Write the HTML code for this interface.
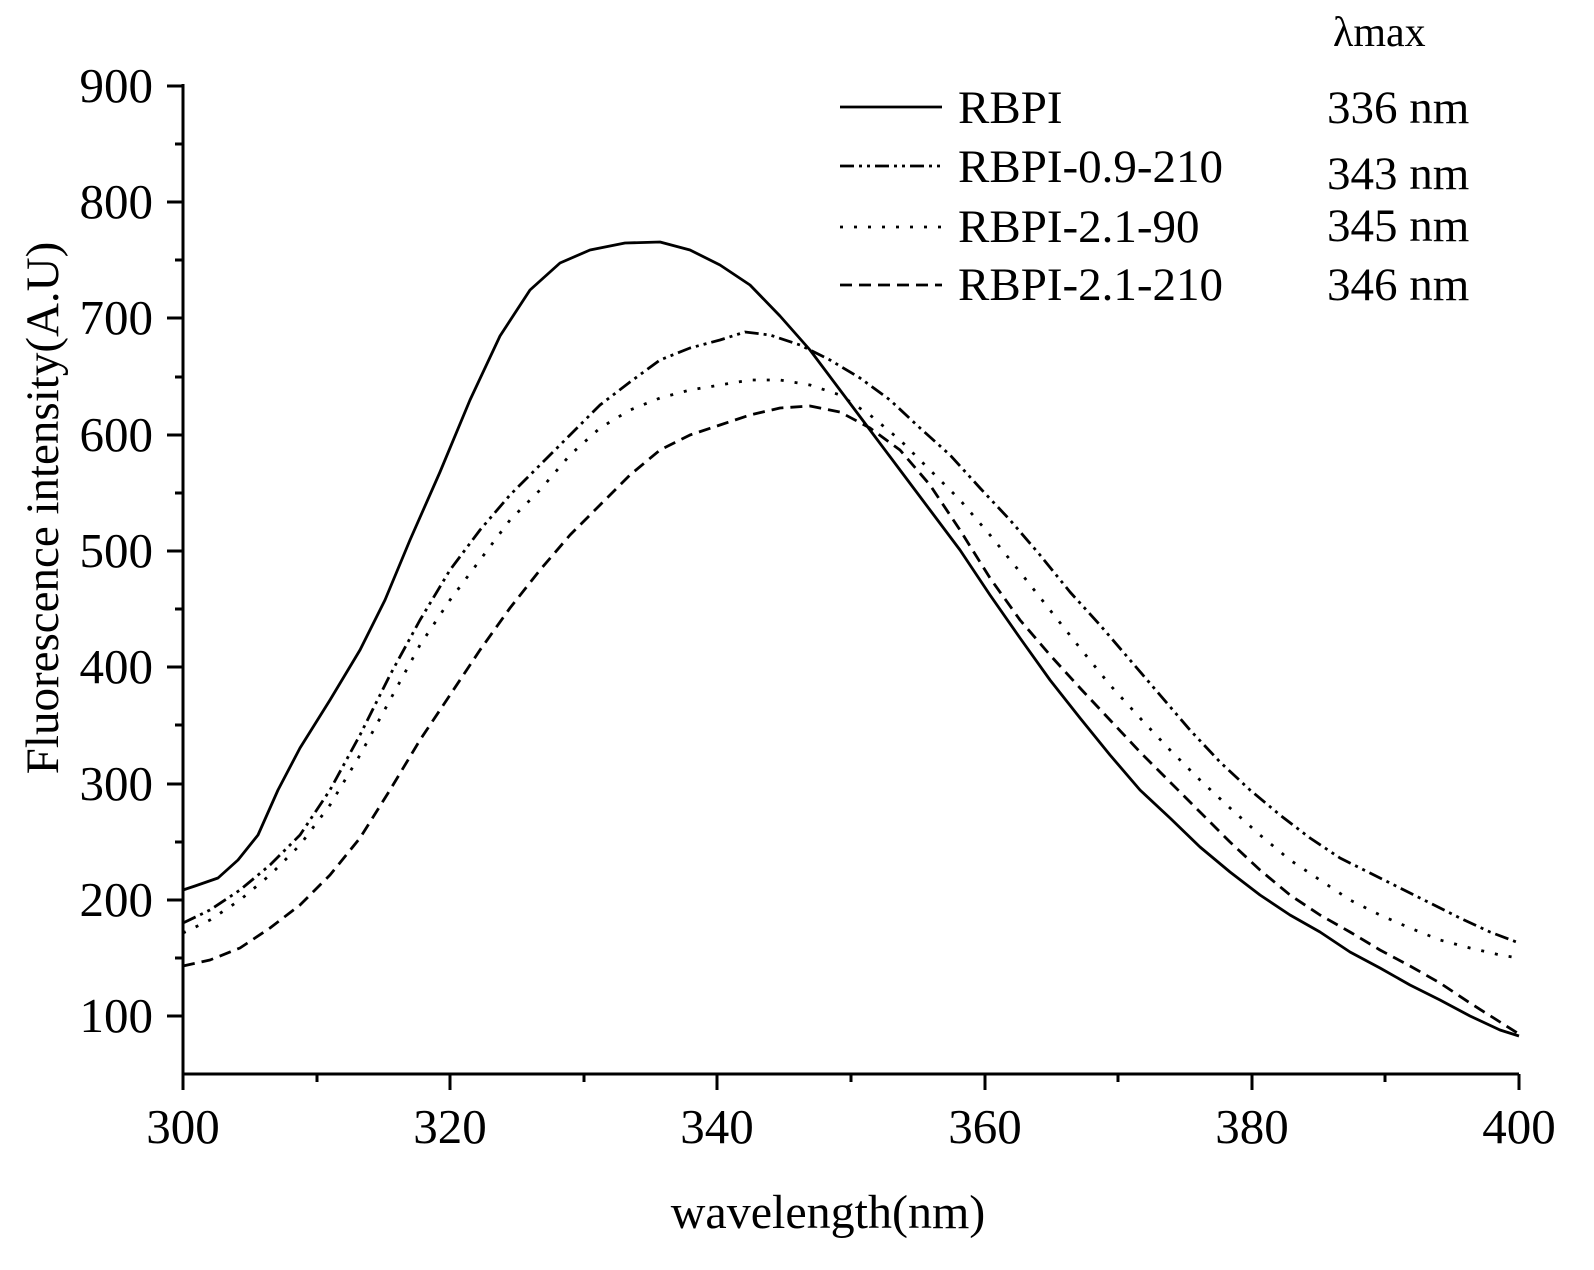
<!DOCTYPE html>
<html><head><meta charset="utf-8"><style>body{margin:0;background:#fff}svg{display:block}text{font-family:"Liberation Serif",serif;fill:#000}</style></head>
<body>
<svg width="1594" height="1270" viewBox="0 0 1594 1270" xmlns="http://www.w3.org/2000/svg">
<g stroke="#000" stroke-width="3" fill="none">
<path d="M183,84 V1074 H1519"/>
<path d="M167,86H183M167,202H183M167,318H183M167,435H183M167,551H183M167,667H183M167,784H183M167,900H183M167,1016H183"/>
<path d="M175,144H183M175,260H183M175,377H183M175,493H183M175,609H183M175,725H183M175,842H183M175,958H183"/>
<path d="M183,1074V1090M450,1074V1090M717,1074V1090M985,1074V1090M1252,1074V1090M1519,1074V1090"/>
<path d="M317,1074V1082M584,1074V1082M851,1074V1082M1118,1074V1082M1385,1074V1082"/>
</g>
<g font-size="49" text-anchor="end">
<text x="153" y="102">900</text><text x="153" y="218">800</text><text x="153" y="334">700</text><text x="153" y="451">600</text><text x="153" y="567">500</text><text x="153" y="683">400</text><text x="153" y="800">300</text><text x="153" y="916">200</text><text x="153" y="1032">100</text>
</g>
<g font-size="49" text-anchor="middle">
<text x="183" y="1143">300</text><text x="450" y="1143">320</text><text x="717" y="1143">340</text><text x="985" y="1143">360</text><text x="1252" y="1143">380</text><text x="1519" y="1143">400</text>
</g>
<text x="828" y="1228" font-size="48" text-anchor="middle">wavelength(nm)</text>
<text transform="translate(58,508) rotate(-90)" font-size="47" text-anchor="middle">Fluorescence intensity(A.U)</text>
<g fill="none" stroke="#000" stroke-width="2.8" stroke-linejoin="round">
<polyline points="183,890 195,886 218,878 238,860 258,835 278,790 300,748 330,700 360,650 385,600 410,540 440,472 470,400 500,336 530,290 560,263 590,250 625,243 660,242 690,250 720,265 750,285 780,316 810,350 840,390 870,430 900,470 930,510 960,550 990,595 1020,638 1050,680 1080,718 1110,755 1140,790 1170,818 1200,847 1230,872 1260,895 1290,915 1320,932 1350,952 1380,968 1410,985 1440,1000 1470,1016 1500,1030 1519,1036"/>
<polyline stroke-dasharray="14,5,3,5,3,5" points="183,923 210,910 240,890 270,865 300,835 330,790 360,735 390,675 420,620 450,570 480,530 510,495 540,465 570,435 600,405 630,382 660,360 690,348 720,340 745,332 770,335 800,345 830,360 860,378 890,400 920,428 950,455 980,488 1010,520 1040,555 1070,592 1100,625 1130,660 1160,695 1190,730 1220,762 1250,790 1280,815 1310,838 1340,858 1370,873 1400,888 1430,903 1460,918 1490,932 1519,943"/>
<polyline stroke-dasharray="3,11" points="183,933 210,920 240,900 270,875 300,845 330,805 360,755 390,700 420,645 450,600 480,560 510,520 540,490 570,455 600,428 630,410 660,398 690,390 720,385 750,380 780,380 810,385 840,395 870,415 900,440 930,470 960,500 990,535 1020,572 1050,610 1080,648 1110,685 1140,718 1170,750 1200,780 1230,808 1260,835 1290,860 1320,880 1350,900 1380,915 1410,928 1440,940 1470,948 1500,955 1519,958"/>
<polyline stroke-dasharray="12,7" points="183,966 210,960 240,948 270,928 300,905 330,875 360,838 390,790 420,740 450,695 480,650 510,608 540,570 570,535 600,505 630,475 660,450 690,435 720,425 750,415 780,408 810,406 840,412 870,428 900,450 930,485 960,530 990,578 1020,620 1050,655 1080,688 1110,720 1140,752 1170,782 1200,812 1230,842 1260,870 1290,895 1320,915 1350,932 1380,950 1410,966 1440,983 1470,1003 1500,1022 1519,1034"/>
<line x1="840" y1="107" x2="942" y2="107"/>
<line x1="840" y1="166" x2="942" y2="166" stroke-dasharray="14,5,3,5,3,5"/>
<line x1="840" y1="227" x2="942" y2="227" stroke-dasharray="3,11"/>
<line x1="840" y1="285" x2="942" y2="285" stroke-dasharray="12,7"/>
</g>
<g font-size="47">
<text x="958" y="123">RBPI</text><text x="958" y="182">RBPI-0.9-210</text><text x="958" y="242">RBPI-2.1-90</text><text x="958" y="300">RBPI-2.1-210</text>
<text x="1333" y="46" font-size="42">λmax</text>
<text x="1327" y="123">336 nm</text><text x="1327" y="189">343 nm</text><text x="1327" y="241">345 nm</text><text x="1327" y="300">346 nm</text>
</g>
</svg>
</body></html>
